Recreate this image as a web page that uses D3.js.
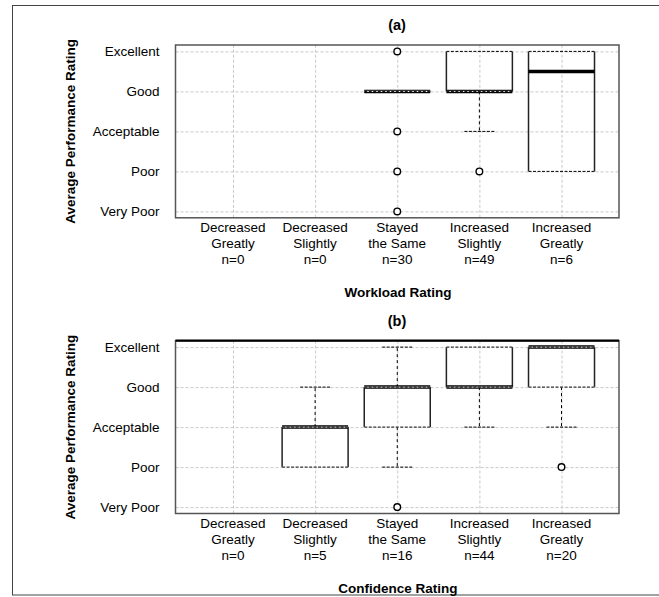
<!DOCTYPE html>
<html><head><meta charset="utf-8">
<script src="https://cdn.jsdelivr.net/npm/d3@7"></script>
<style>
body{margin:0;background:#fff;}
text{font-family:Arial,"Liberation Sans",sans-serif;fill:#000;}
</style></head>
<body><svg id="c" width="659" height="597"></svg>
<script>
const categories = [["Decreased","Greatly"],["Decreased","Slightly"],["Stayed","the Same"],["Increased","Slightly"],["Increased","Greatly"]];
const yTickLabels = ["Very Poor","Poor","Acceptable","Good","Excellent"];
const yTickValues = [1,2,3,4,5];

// Panel (a) Workload Rating
const workloadN   = [0,0,30,49,6];
const workloadQ1  = [null,null,4,4,2];
const workloadMed = [null,null,4,4,4.5];
const workloadQ3  = [null,null,4,5,5];
const workloadLo  = [null,null,4,3,2];
const workloadHi  = [null,null,4,5,5];
const workloadOut = [[],[],[5,3,2,1],[2],[]];

// Panel (b) Confidence Rating
const confN   = [0,5,16,44,20];
const confQ1  = [null,2,3,4,4];
const confMed = [null,3,4,4,5];
const confQ3  = [null,3,4,5,5];
const confLo  = [null,2,2,3,3];
const confHi  = [null,4,5,5,5];
const confOut = [[],[],[1],[],[2]];

const FS = 13.5;
const svg = d3.select("#c");
// outer frame
svg.append("rect").attr("x",12.5).attr("y",5.5).attr("width",700).attr("height",589.5)
  .attr("fill","none").attr("stroke","#444").attr("stroke-width",1);

const plotL = 175.5, plotR = 619;
const x = d3.scaleLinear().domain([-0.7,4.7]).range([plotL,plotR]);

function panel(top, title, xTitle, N, Q1, Med, Q3, Lo, Hi, Out, topBlack){
  const y = d3.scaleLinear().domain([0.84,5.16]).range([top+172.8, top]);
  const g = svg.append("g");
  const bottom = top+172.8;
  // grid
  g.append("g").attr("transform",`translate(${plotL},0)`)
    .call(d3.axisLeft(y).tickValues(yTickValues).tickSize(-(plotR-plotL)).tickFormat(""))
    .call(a=>a.select(".domain").remove())
    .call(a=>a.selectAll("line").attr("stroke","#c8c8c8").attr("stroke-dasharray","3,2"));
  g.append("g").attr("transform",`translate(0,${bottom})`)
    .call(d3.axisBottom(x).tickValues(d3.range(categories.length)).tickSize(-(bottom-top)).tickFormat(""))
    .call(a=>a.select(".domain").remove())
    .call(a=>a.selectAll("line").attr("stroke","#c8c8c8").attr("stroke-dasharray","3,2"));
  // y tick labels
  g.append("g").attr("transform",`translate(${plotL},0)`)
    .call(d3.axisLeft(y).tickValues(yTickValues).tickSize(0).tickPadding(16).tickFormat((d,i)=>yTickLabels[i]))
    .call(a=>a.select(".domain").remove())
    .call(a=>a.selectAll("text").attr("font-size",FS).attr("font-family","Arial, Liberation Sans, sans-serif").attr("fill","#000"));
  // x labels
  categories.forEach((c,i)=>{
    const t = g.append("text").attr("text-anchor","middle").attr("font-size",FS);
    [c[0],c[1],"n="+N[i]].forEach((s,k)=>{
      t.append("tspan").attr("x",x(i)).attr("y",bottom+14+k*16).text(s);
    });
  });
  // boxes
  const hw = 33, cw = 15;
  for(let i=0;i<categories.length;i++){
    if(Q1[i]==null) continue;
    const cx = x(i);
    if(Lo[i]<Q1[i]){
      g.append("line").attr("x1",cx).attr("x2",cx).attr("y1",y(Q1[i])).attr("y2",y(Lo[i]))
        .attr("stroke","#000").attr("stroke-width",1).attr("stroke-dasharray","3,3");
      g.append("line").attr("x1",cx-cw).attr("x2",cx+cw).attr("y1",y(Lo[i])).attr("y2",y(Lo[i]))
        .attr("stroke","#000").attr("stroke-width",1).attr("stroke-dasharray","3,1.5");
    }
    if(Hi[i]>Q3[i]){
      g.append("line").attr("x1",cx).attr("x2",cx).attr("y1",y(Q3[i])).attr("y2",y(Hi[i]))
        .attr("stroke","#000").attr("stroke-width",1).attr("stroke-dasharray","3,3");
      g.append("line").attr("x1",cx-cw).attr("x2",cx+cw).attr("y1",y(Hi[i])).attr("y2",y(Hi[i]))
        .attr("stroke","#000").attr("stroke-width",1).attr("stroke-dasharray","3,1.5");
    }
    if(Q3[i]>Q1[i]){
      [cx-hw,cx+hw].forEach(xx=>g.append("line").attr("x1",xx).attr("x2",xx)
        .attr("y1",y(Q3[i])).attr("y2",y(Q1[i])).attr("stroke","#222").attr("stroke-width",1.5));
    }
    g.append("line").attr("x1",cx-hw).attr("x2",cx+hw).attr("y1",y(Med[i])).attr("y2",y(Med[i]))
      .attr("stroke","#000").attr("stroke-width",3.5);
    [Q1[i],Q3[i]].forEach(v=>{
      g.append("line").attr("x1",cx-hw).attr("x2",cx+hw).attr("y1",y(v)).attr("y2",y(v))
        .attr("stroke","#fff").attr("stroke-width",1);
      g.append("line").attr("x1",cx-hw).attr("x2",cx+hw).attr("y1",y(v)).attr("y2",y(v))
        .attr("stroke","#000").attr("stroke-width",1).attr("stroke-dasharray","3,1.5");
    });
    Out[i].forEach(v=>{
      g.append("circle").attr("cx",cx).attr("cy",y(v)).attr("r",3.3)
        .attr("fill","#fff").attr("stroke","#000").attr("stroke-width",1.4);
    });
  }
  g.append("rect").attr("x",plotL).attr("y",top).attr("width",plotR-plotL).attr("height",bottom-top)
    .attr("fill","none").attr("stroke","#555").attr("stroke-width",1.5);
  if(topBlack){
    g.append("line").attr("x1",plotL).attr("x2",plotR).attr("y1",top).attr("y2",top)
      .attr("stroke","#000").attr("stroke-width",2.2);
  }
  g.append("text").attr("x",397).attr("y",top-15).attr("text-anchor","middle")
    .attr("font-size",14.5).attr("font-weight","bold").text(title);
  g.append("text").attr("x",398).attr("y",bottom+79.5).attr("text-anchor","middle")
    .attr("font-size",FS).attr("font-weight","bold").text(xTitle);
  g.append("text").attr("transform",`translate(75,${(top+bottom)/2}) rotate(-90)`)
    .attr("text-anchor","middle").attr("font-size",FS).attr("font-weight","bold")
    .text("Average Performance Rating");
}

panel(45, "(a)", "Workload Rating", workloadN, workloadQ1, workloadMed, workloadQ3, workloadLo, workloadHi, workloadOut, false);
panel(340.7, "(b)", "Confidence Rating", confN, confQ1, confMed, confQ3, confLo, confHi, confOut, true);
</script></body></html>
